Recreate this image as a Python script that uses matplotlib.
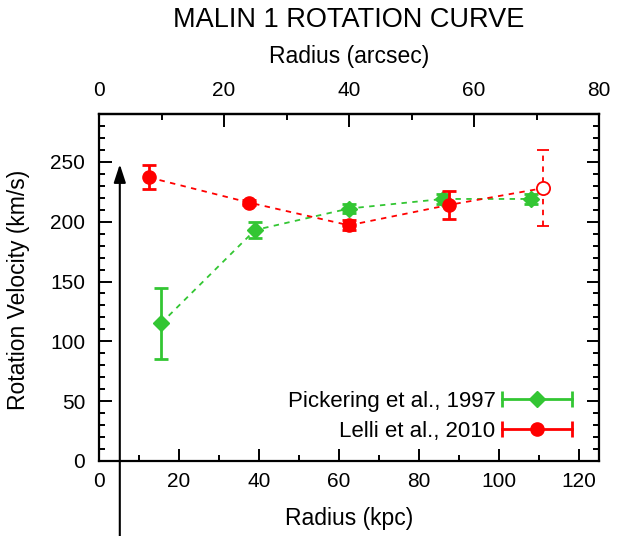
import matplotlib
matplotlib.use("Agg")
import matplotlib.pyplot as plt
from matplotlib.lines import Line2D
from matplotlib.legend_handler import HandlerBase
from matplotlib.ticker import MultipleLocator, FixedLocator

plt.rcParams['font.family'] = ['Liberation Sans', 'DejaVu Sans']

# Data (radius in kpc, velocity in km/s)
pick_r = [15.5, 39.0, 62.5, 86.0, 108.0]
pick_v = [115, 193, 211, 219, 219]
pick_err = [30, 7, 4, 4, 4]

lelli_r = [12.5, 37.5, 62.5, 87.5]
lelli_v = [237, 216, 197, 214]
lelli_err = [10, 2, 4, 12]

lelli_open_r = [111.0]
lelli_open_v = [228]
lelli_open_err = [32]

arrow_r = 5.2
arrow_v = 248

arcsec_ticks = [0, 20, 40, 60, 80]
arcsec_minor = [10, 30, 50, 70]

KPC_PER_ARCSEC = 125.0 / 80.0

GREEN = '#33c633'
RED = '#ff0000'

fig = plt.figure(figsize=(6.17, 5.36), dpi=100)
ax = fig.add_axes([99/617, 1-461/536, 500/617, 347/536])

ax.set_xlim(0, 125)
ax.set_ylim(0, 290)

# connecting dashed lines
ax.plot(pick_r, pick_v, color=GREEN, lw=1.3, ls=(0, (3, 3)), zorder=2)
ax.plot(lelli_r + lelli_open_r, lelli_v + lelli_open_v, color=RED, lw=1.3,
        ls=(0, (3, 3)), zorder=2)

# Pickering points
ax.errorbar(pick_r, pick_v, yerr=pick_err, fmt='D', color=GREEN, ms=8.3,
            elinewidth=2, capsize=5, capthick=2, zorder=3)
# Lelli points
ax.errorbar(lelli_r, lelli_v, yerr=lelli_err, fmt='o', color=RED, ms=9.5,
            elinewidth=2, capsize=5, capthick=2, zorder=4)
# open point with dashed error bar
eb = ax.errorbar(lelli_open_r, lelli_open_v, yerr=lelli_open_err, fmt='o',
                 color=RED, mfc='white', mec=RED, mew=1.3, ms=9.5,
                 elinewidth=1.3, capsize=4, capthick=1.3, zorder=4)
for lc in eb[2]:
    lc.set_linestyle((0, (3, 3)))

# arrow
ax.annotate('', xy=(arrow_r, arrow_v), xytext=(arrow_r, -63),
            xycoords='data', textcoords='data', annotation_clip=False,
            arrowprops=dict(arrowstyle='-|>,head_length=0.55,head_width=0.18',
                            mutation_scale=20, color='k', lw=1.5,
                            shrinkA=0, shrinkB=0))

# axes styling
for s in ax.spines.values():
    s.set_linewidth(1.6)
ax.xaxis.set_major_locator(MultipleLocator(20))
ax.xaxis.set_minor_locator(MultipleLocator(10))
ax.yaxis.set_major_locator(MultipleLocator(50))
ax.yaxis.set_minor_locator(MultipleLocator(10))
ax.tick_params(which='both', direction='in', right=True, top=False, width=1.4,
               labelsize=15)
ax.tick_params(which='major', length=9)
ax.tick_params(which='minor', length=4.5)
ax.tick_params(axis='x', which='major', pad=8)
ax.tick_params(axis='y', which='major', pad=10)

ax.set_xlabel('Radius (kpc)', fontsize=16.5)
ax.xaxis.set_label_coords(0.5, (461 - 519) / 347)
ax.xaxis.label.set_va('center')
ax.set_ylabel('Rotation Velocity (km/s)', fontsize=16.5)
ax.yaxis.set_label_coords((18 - 99) / 500, (461 - 290) / 347)
ax.yaxis.label.set_va('center')

sec = ax.secondary_xaxis('top', functions=(lambda x: x / KPC_PER_ARCSEC,
                                           lambda x: x * KPC_PER_ARCSEC))
sec.xaxis.set_major_locator(FixedLocator(arcsec_ticks))
sec.xaxis.set_minor_locator(FixedLocator(arcsec_minor))
sec.tick_params(which='both', direction='in', width=1.4, labelsize=15)
sec.tick_params(which='major', length=9, pad=10)
sec.tick_params(which='minor', length=4.5)
sec.spines['top'].set_linewidth(1.6)

fig.text(349/617, 1 - 57/536, 'Radius (arcsec)', fontsize=16.5,
         ha='center', va='center')
fig.text(349/617, 1 - 20/536, 'MALIN 1 ROTATION CURVE', fontsize=19.5,
         ha='center', va='center')


class HErrHandler(HandlerBase):
    def create_artists(self, legend, orig_handle, xdescent, ydescent, width,
                       height, fontsize, trans):
        y = (height - ydescent) / 2
        x0 = -xdescent
        x1 = -xdescent + width
        c = orig_handle.get_color()
        bar = Line2D([x0, x1], [y, y], color=c, lw=2, marker='|', ms=11,
                     mew=2)
        mk = Line2D([(x0 + x1) / 2], [y], color=c, marker=orig_handle.get_marker(),
                    ms=orig_handle.get_markersize(), ls='none')
        bar.set_transform(trans)
        mk.set_transform(trans)
        return [bar, mk]


h1 = Line2D([], [], color=GREEN, marker='D', ms=8.3)
h2 = Line2D([], [], color=RED, marker='o', ms=9.5)
leg = ax.legend([h1, h2], ['Pickering et al., 1997', 'Lelli et al., 2010'],
                handler_map={Line2D: HErrHandler()}, loc='lower right',
                bbox_to_anchor=(0.964, 0.029), borderaxespad=0,
                frameon=False, markerfirst=False,
                fontsize=16, handlelength=3.15, handletextpad=0.3,
                labelspacing=0.4)

fig.savefig('out.png', dpi=100)
